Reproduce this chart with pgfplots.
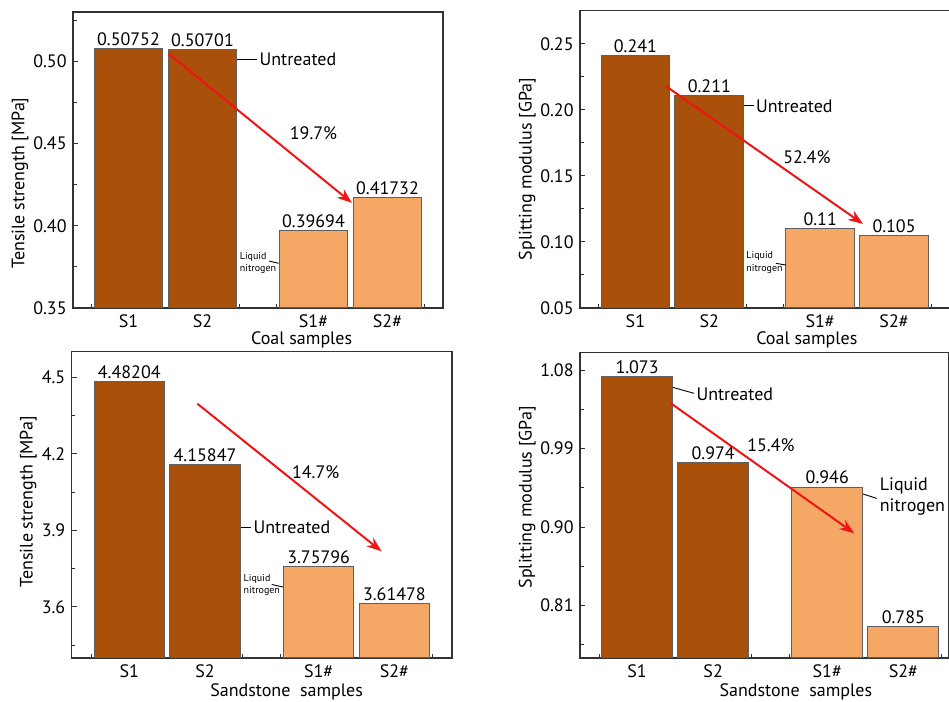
\documentclass[border=0pt]{standalone}
\usepackage{fontspec}
\setmainfont{PT Sans}
\usepackage{pgfplots}
\pgfplotsset{compat=1.18}
\usetikzlibrary{arrows.meta}
\definecolor{dark}{RGB}{169,80,10}
\definecolor{light}{RGB}{245,167,102}
\definecolor{edge}{RGB}{95,95,95}
\definecolor{arr}{RGB}{240,20,20}
\tikzset{
  redarrow/.style={draw=arr, line width=1pt, -{Stealth[length=7.5pt,width=5.5pt]}},
  conn/.style={draw=black, line width=0.45pt},
  tiny/.style={font=\fontsize{5}{6.2}\selectfont, align=left, inner sep=0pt},
}
\pgfplotsset{
  panel/.style={
    scale only axis, anchor=south west,
    xmin=-0.75,
    axis line style={draw=black!80, line width=0.6pt},
    xtick={0,1,2.5,3.5}, xticklabels={S1,S2,S1\#,S2\#},
    minor xtick={-0.5,1.5,2,4},
    tick align=inside, xtick pos=bottom, ytick pos=left,
    major tick length=2.6pt, minor tick length=1.8pt,
    tick style={black!80, line width=0.5pt},
    clip mode=individual,
    /pgf/number format/assume math mode=true,
    ylabel style={anchor=center, rotate=0},
    xlabel style={anchor=center},
    nodes near coords, point meta=explicit symbolic,
    nodes near coords style={inner sep=1.2pt, anchor=south},
  },
  darkbar/.style={ybar, bar shift=0pt, bar width=0.93, fill=dark, draw=edge, line width=0.5pt},
  lightbar/.style={ybar, bar shift=0pt, bar width=0.93, fill=light, draw=edge, line width=0.5pt},
}
\begin{document}
\fontsize{9}{11}\selectfont
\begin{tikzpicture}
\useasboundingbox (0,0) rectangle (474.5pt,351pt);
% ---------------- Panel 1 ----------------
\begin{axis}[panel, at={(36.5pt,197pt)}, width=185pt, height=148pt, xmax=4.25,
  ymin=0.35, ymax=0.53, ytick={0.35,0.40,0.45,0.50}, minor ytick={0.375,0.425,0.475,0.525},
  yticklabel style={/pgf/number format/.cd, fixed, fixed zerofill, precision=2},
  ylabel={Tensile strength [MPa]}, xlabel={Coal samples},
  ylabel style={at={(axis description cs:-0.143,0.422)}},
  xlabel style={at={(axis description cs:0.618,-0.108)}}]
\addplot[darkbar] coordinates {(0,0.50752) [0.50752] (1,0.50701) [0.50701]};
\addplot[lightbar] coordinates {(2.5,0.39694) [0.39694] (3.5,0.41732) [0.41732]};
\draw[redarrow] (axis cs:0.54,0.5047) -- (axis cs:3.02,0.4139);
\node at (axis cs:2.5,0.456) {19.7\%};
\draw[conn] (axis cs:1.47,0.5012) -- (axis cs:1.74,0.5012);
\node[anchor=west, inner sep=1pt] at (axis cs:1.74,0.5012) {Untreated};
\node[tiny] at (axis cs:1.75,0.3775) {Liquid\\nitrogen};
\draw[conn] (axis cs:1.90,0.3785) -- (axis cs:2.03,0.3772);
\end{axis}
% ---------------- Panel 2 ----------------
\begin{axis}[panel, at={(290pt,197pt)}, width=184.75pt, height=148.65pt, xmax=4.25,
  ymin=0.05, ymax=0.275, ytick={0.05,0.10,0.15,0.20,0.25}, minor ytick={0.075,0.125,0.175,0.225},
  yticklabel style={/pgf/number format/.cd, fixed, fixed zerofill, precision=2},
  ylabel={Splitting modulus [GPa]}, xlabel={Coal samples},
  ylabel style={at={(axis description cs:-0.1426,0.4675)}},
  xlabel style={at={(axis description cs:0.614,-0.1076)}}]
\addplot[darkbar] coordinates {(0,0.241) [0.241] (1,0.211) [0.211]};
\addplot[lightbar] coordinates {(2.5,0.110) [0.11] (3.5,0.105) [0.105]};
\draw[redarrow] (axis cs:0.405,0.2182) -- (axis cs:3.08,0.1136);
\node at (axis cs:2.32,0.164) {52.4\%};
\draw[conn] (axis cs:1.47,0.2030) -- (axis cs:1.60,0.2030);
\node[anchor=west, inner sep=1pt] at (axis cs:1.60,0.2030) {Untreated};
\node[tiny] at (axis cs:1.747,0.0843) {Liquid\\nitrogen};
\draw[conn] (axis cs:1.90,0.0838) -- (axis cs:2.04,0.0825);
\end{axis}
% ---------------- Panel 3 ----------------
\begin{axis}[panel, at={(35.85pt,22pt)}, width=190.15pt, height=153.15pt, xmin=-0.76, xmax=4.26,
  ymin=3.4, ymax=4.6, ytick={3.6,3.9,4.2,4.5}, minor ytick={3.45,3.75,4.05,4.35},
  yticklabel style={/pgf/number format/.cd, fixed, fixed zerofill, precision=1},
  ylabel={Tensile strength [MPa]}, xlabel={Sandstone\ \ samples},
  ylabel style={at={(axis description cs:-0.114,0.51)}},
  xlabel style={at={(axis description cs:0.565,-0.11)}}]
\addplot[darkbar] coordinates {(0,4.48204) [4.48204] (1,4.15847) [4.15847]};
\addplot[lightbar] coordinates {(2.5,3.75796) [3.75796] (3.5,3.61478) [3.61478]};
\draw[redarrow] (axis cs:0.90,4.396) -- (axis cs:3.33,3.818);
\node at (axis cs:2.46,4.126) {14.7\%};
\draw[conn] (axis cs:1.47,3.913) -- (axis cs:1.61,3.913);
\node[anchor=west, inner sep=1pt] at (axis cs:1.61,3.913) {Untreated};
\node[tiny] at (axis cs:1.75,3.685) {Liquid\\nitrogen};
\draw[conn] (axis cs:1.88,3.688) -- (axis cs:2.03,3.678);
\end{axis}
% ---------------- Panel 4 ----------------
\begin{axis}[panel, at={(290pt,22pt)}, width=184.5pt, height=152.65pt, xmax=4.1,
  ymin=0.75, ymax=1.10, ytick={0.81,0.90,0.99,1.08}, minor ytick={0.765,0.855,0.945,1.035},
  yticklabel style={/pgf/number format/.cd, fixed, fixed zerofill, precision=2},
  ylabel={Splitting modulus [GPa]}, xlabel={Sandstone\ \ samples},
  ylabel style={at={(axis description cs:-0.143,0.526)}},
  xlabel style={at={(axis description cs:0.585,-0.11)}}]
\addplot[darkbar] coordinates {(0,1.073) [1.073] (1,0.974) [0.974]};
\addplot[lightbar] coordinates {(2.5,0.946) [0.946] (3.5,0.786) [0.785]};
\draw[redarrow] (axis cs:0.434,1.0426) -- (axis cs:2.855,0.893);
\node at (axis cs:1.76,0.9934) {15.4\%};
\draw[conn] (axis cs:0.47,1.0602) -- (axis cs:0.75,1.0534);
\node[anchor=west, inner sep=1pt] at (axis cs:0.75,1.0525) {Untreated};
\draw[conn] (axis cs:2.97,0.938) -- (axis cs:3.15,0.933);
\node[anchor=west, align=left, inner sep=1pt, font=\fontsize{9}{10.4}\selectfont] at (axis cs:3.16,0.935) {Liquid\\nitrogen};
\end{axis}
\end{tikzpicture}
\end{document}
